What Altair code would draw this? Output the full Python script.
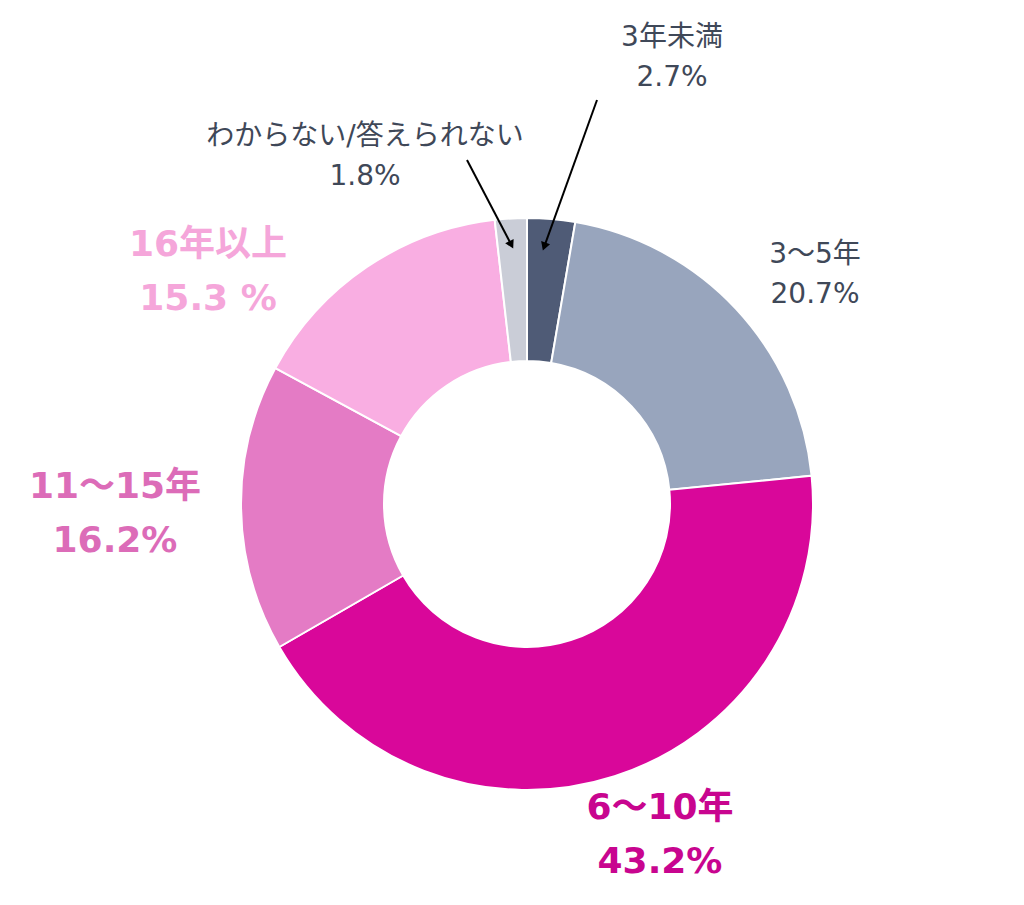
import math
import altair as alt
import pandas as pd

# ---- data ----
categories = ["3年未満", "3～5年", "6～10年", "11～15年", "16年以上", "わからない/答えられない"]
values = [2.7, 20.7, 43.2, 16.2, 15.3, 1.8]
pct_labels = ["2.7%", "20.7%", "43.2%", "16.2%", "15.3 %", "1.8%"]
slice_colors = ["#4f5b76", "#98a5bd", "#d9079a", "#e47bc5", "#f9aee2", "#cacdd7"]

# ---- layout (offsets in px from donut centre to first label line, y downward) ----
label_dx = [145, 288, 133, -412, -319, -162]
label_dy = [-466, -249, 304, -17, -259, -367]
label_bold = [False, False, True, True, True, False]
label_color = ["#3f4858", "#3f4858", "#c8058f", "#dc6cb8", "#f5a6da", "#3f4858"]

arrow_x = [70, -60]
arrow_y = [-404, -344]
arrow_tip_x = [16, -14]
arrow_tip_y = [-254, -256]

W, H = 994, 802
FONT = "DejaVu Sans, Noto Sans CJK JP, sans-serif"

arcs = pd.DataFrame({"category": categories, "value": values, "order": list(range(len(values)))})

labels = pd.DataFrame({
    "text": [c + "\n" + p for c, p in zip(categories, pct_labels)],
    "dx": label_dx, "dy": label_dy, "bold": label_bold, "tcolor": label_color,
})

rows = []
for x0, y0, x1, y1 in zip(arrow_x, arrow_y, arrow_tip_x, arrow_tip_y):
    vx, vy = x1 - x0, y1 - y0
    n = math.hypot(vx, vy)
    ux, uy = vx / n, vy / n
    hx, hy = x1 - 5 * ux, y1 - 5 * uy
    ang = math.degrees(math.atan2(ux, -uy)) % 360
    rows.append({"x": x0, "y": y0, "x2": hx, "y2": hy, "ang": ang})
arrows = pd.DataFrame(rows)

xs = alt.Scale(domain=[-W / 2, W / 2], nice=False, zero=False)
ys = alt.Scale(domain=[-H / 2, H / 2], nice=False, zero=False, reverse=True)

donut = alt.Chart(arcs).mark_arc(outerRadius=286, innerRadius=143, stroke="white", strokeWidth=2).encode(
    theta=alt.Theta("value:Q", stack=True),
    order=alt.Order("order:O"),
    color=alt.Color("category:N", scale=alt.Scale(domain=categories, range=slice_colors), legend=None),
)

def text_layer(bold):
    return alt.Chart(labels[labels["bold"] == bold]).mark_text(
        font=FONT,
        fontSize=36 if bold else 28,
        fontWeight="bold" if bold else "normal",
        lineBreak="\n",
        lineHeight=54 if bold else 40,
        align="center",
        baseline="middle",
    ).encode(
        x=alt.X("dx:Q", scale=xs, axis=None),
        y=alt.Y("dy:Q", scale=ys, axis=None),
        text="text:N",
        color=alt.Color("tcolor:N", scale=None),
    )

lines = alt.Chart(arrows).mark_rule(color="black", strokeWidth=2).encode(
    x=alt.X("x:Q", scale=xs, axis=None),
    y=alt.Y("y:Q", scale=ys, axis=None),
    x2="x2:Q",
    y2="y2:Q",
)

heads = alt.Chart(arrows).mark_point(shape="triangle", filled=True, color="black", size=90, opacity=1).encode(
    x=alt.X("x2:Q", scale=xs, axis=None),
    y=alt.Y("y2:Q", scale=ys, axis=None),
    angle=alt.Angle("ang:Q", scale=None),
)

chart = alt.layer(donut, text_layer(False), text_layer(True), lines, heads).properties(
    width=W, height=H,
    background="white",
    autosize=alt.AutoSizeParams(type="none"),
    padding={"left": 30, "top": 103, "right": 0, "bottom": 0},
).configure_view(strokeWidth=0, stroke=None)

chart.save("out.html", embed_options={"renderer": "svg", "actions": False})
